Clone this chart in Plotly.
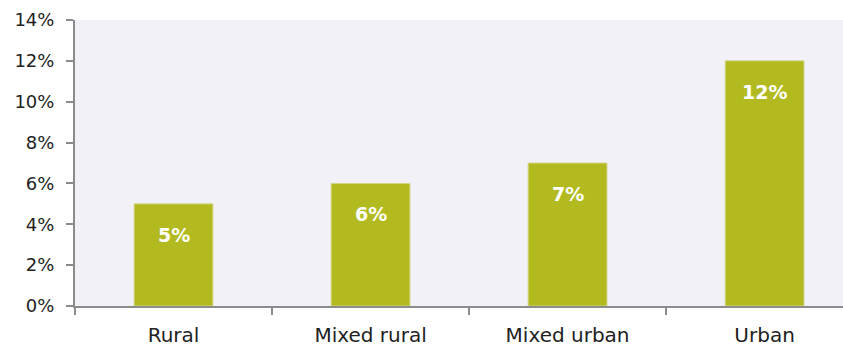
import plotly.graph_objects as go

categories = ["Rural", "Mixed rural", "Mixed urban", "Urban"]
values = [5, 6, 7, 12]
y_ticks = [0, 2, 4, 6, 8, 10, 12, 14]
y_tick_labels = [f"{v}%" for v in y_ticks]

bar_color = "#B2BA20"
font_family = "DejaVu Sans, sans-serif"
axis_grey = "#8C8C8C"

fig = go.Figure(
    go.Bar(
        x=categories,
        y=values,
        width=0.4,
        marker=dict(color=bar_color, line=dict(color="#D3D68A", width=1)),
        hoverinfo="skip",
    )
)

# value labels sit inside each bar, just below its top
for cat, val in zip(categories, values):
    fig.add_annotation(
        x=cat, y=val, text=f"<b>{val}%</b>", showarrow=False,
        yshift=-31, font=dict(family=font_family, size=19, color="white"),
    )

fig.update_layout(
    width=843, height=346,
    margin=dict(l=75, r=0, t=20, b=40),
    paper_bgcolor="white",
    plot_bgcolor="#F2F1F7",
    font=dict(family=font_family, size=17, color="#222222"),
    showlegend=False,
    bargap=0.6,
)
fig.update_xaxes(
    range=[-0.5, 3.398],
    showline=True, linecolor=axis_grey, linewidth=2,
    ticks="outside", tickson="boundaries", ticklen=7, tickcolor=axis_grey, tickwidth=2,
    tickfont=dict(size=20), ticklabelstandoff=10,
    showgrid=False, zeroline=False,
)
fig.update_yaxes(
    range=[0, 14], tickvals=y_ticks, ticktext=y_tick_labels,
    showline=True, linecolor=axis_grey, linewidth=2,
    ticks="outside", ticklen=7, tickcolor=axis_grey, tickwidth=2,
    tickfont=dict(size=18), ticklabelstandoff=8,
    showgrid=False, zeroline=False,
)

fig.write_html("out.html")
